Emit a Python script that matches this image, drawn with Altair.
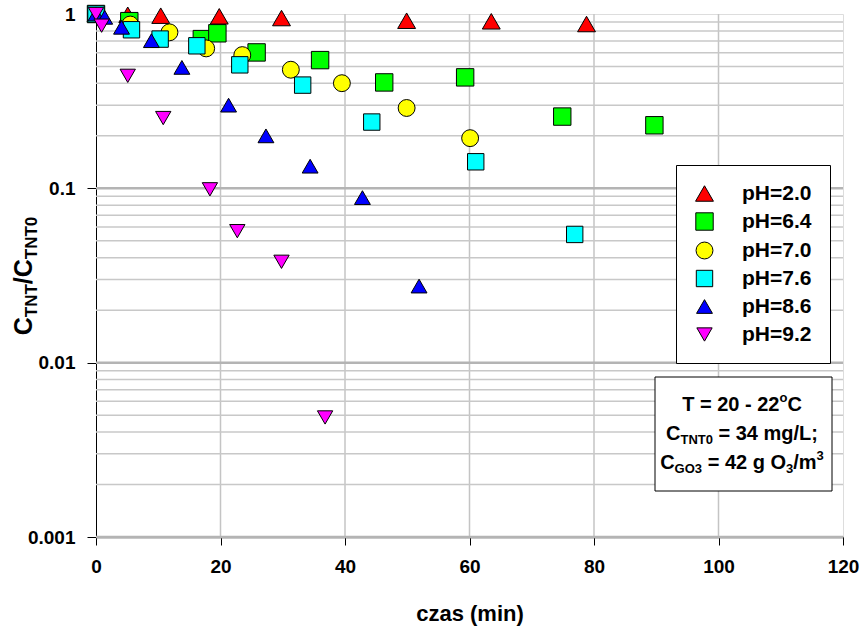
import altair as alt
import pandas as pd

FONT = "Liberation Sans"

series = ["pH=2.0", "pH=6.4", "pH=7.0", "pH=7.6", "pH=8.6", "pH=9.2"]
colors = ["#FF0000", "#00FF00", "#FFFF00", "#00FFFF", "#0000FF", "#FF00FF"]
shapes = ["triangle-up", "square", "circle", "square", "triangle-up", "triangle-down"]
sizes = [320, 235, 250, 235, 320, 320]

t_20 = [0, 5.1, 10.4, 19.8, 29.8, 49.9, 63.5, 78.8]
c_20 = [1.0, 0.99, 0.978, 0.97, 0.948, 0.915, 0.908, 0.876]

t_64 = [0, 5.35, 17.0, 19.5, 25.8, 36.0, 46.3, 59.3, 74.9, 89.7]
c_64 = [1.0, 0.91, 0.718, 0.775, 0.602, 0.544, 0.405, 0.433, 0.258, 0.230]

t_70 = [0, 5.5, 11.8, 17.7, 23.5, 31.3, 39.5, 49.9, 60.1]
c_70 = [1.0, 0.87, 0.785, 0.635, 0.581, 0.479, 0.401, 0.289, 0.194]

t_76 = [0, 5.7, 10.3, 16.2, 23.1, 33.2, 44.3, 61.0, 76.9]
c_76 = [1.0, 0.812, 0.718, 0.657, 0.511, 0.391, 0.240, 0.142, 0.0544]

t_86 = [0, 1.4, 4.1, 8.9, 13.8, 21.3, 27.3, 34.4, 42.8, 51.9]
c_86 = [1.0, 0.957, 0.839, 0.703, 0.494, 0.300, 0.200, 0.134, 0.0885, 0.0275]

t_92 = [0, 0.9, 5.1, 10.8, 18.3, 22.7, 29.8, 36.8]
c_92 = [1.0, 0.857, 0.442, 0.253, 0.0987, 0.0568, 0.0379, 0.00485]

x_ticks = [0, 20, 40, 60, 80, 100, 120]
y_ticks = [0.001, 0.01, 0.1, 1]
x_grid = [20, 40, 60, 80, 100]
y_major_grid = [0.001, 0.01, 0.1]
y_minor_grid = [k * 10.0 ** d for d in (-3, -2, -1) for k in range(2, 10)]

rows = []
for name, ts, cs in zip(series, [t_20, t_64, t_70, t_76, t_86, t_92],
                        [c_20, c_64, c_70, c_76, c_86, c_92]):
    for t, c in zip(ts, cs):
        rows.append({"series": name, "t": t, "c": c})
df = pd.DataFrame(rows)

X0, Y0 = 96, 14
W, H = 747, 523

xs = alt.Scale(domain=[0, 120], nice=False, zero=False)
ys = alt.Scale(type="log", domain=[0.001, 1], nice=False)

dummy = pd.DataFrame({"a": [0]})


def txt(s, x, y, size, align="left", angle=0, baseline="middle"):
    return alt.Chart(dummy).mark_text(
        text=s, fontSize=size, fontWeight="bold", font=FONT, align=align,
        baseline=baseline, angle=angle, color="black"
    ).encode(x=alt.value(x - X0), y=alt.value(y - Y0))


minor = alt.Chart(pd.DataFrame({"v": y_minor_grid})).mark_rule(
    color="#c8c8c8", strokeWidth=1.5
).encode(y=alt.Y("v:Q", scale=ys))
major = alt.Chart(pd.DataFrame({"v": y_major_grid})).mark_rule(
    color="#b4b4b4", strokeWidth=2.5
).encode(y=alt.Y("v:Q", scale=ys))
vgrid = alt.Chart(pd.DataFrame({"v": x_grid})).mark_rule(
    color="#c4c4c4", strokeWidth=1.5
).encode(x=alt.X("v:Q", scale=xs))

leg = alt.Legend(
    title="", orient="none", legendX=676 - X0, legendY=165 - Y0,
    fillColor="white", strokeColor="black", padding=18, rowPadding=6,
    labelFontSize=21, labelFont=FONT, labelFontWeight="bold", labelColor="black",
    symbolSize=280, symbolStrokeColor="black", symbolStrokeWidth=1,
    labelOffset=27
)

points = alt.Chart(df).mark_point(
    filled=True, stroke="black", strokeWidth=1, opacity=1
).encode(
    x=alt.X("t:Q", scale=xs, axis=alt.Axis(
        values=x_ticks, format="d", title=None, grid=False, labelFontSize=19,
        labelFont=FONT, labelFontWeight="bold", labelColor="black",
        tickColor="black", tickSize=8, domainColor="#404040", domainWidth=1.5,
        labelPadding=12, labelFlush=False, labelOverlap=False)),
    y=alt.Y("c:Q", scale=ys, axis=alt.Axis(
        values=y_ticks, format="~g", title=None, grid=False, labelFontSize=19,
        labelFont=FONT, labelFontWeight="bold", labelColor="black",
        tickColor="black", tickSize=9, domainColor="black", domainWidth=1,
        labelPadding=12, labelFlush=False, labelOverlap=False)),
    color=alt.Color("series:N", scale=alt.Scale(domain=series, range=colors), legend=leg),
    shape=alt.Shape("series:N", scale=alt.Scale(domain=series, range=shapes), legend=leg),
    size=alt.Size("series:N", scale=alt.Scale(domain=series, range=sizes), legend=None),
)

box = alt.Chart(dummy).mark_rect(fill="white", stroke="black", strokeWidth=1).encode(
    x=alt.value(655 - X0), x2=alt.value(832 - X0),
    y=alt.value(377 - Y0), y2=alt.value(491 - Y0))

# text box lines (Arial/Liberation Sans Bold advance widths)
M, S = 20, 13
l1_start = 742 - (4.864 * M + 0.611 * S + 0.722 * M) / 2
l2_start = 742 - (0.722 * M + 2.5 * S + 5.252 * M) / 2
l3_start = 742 - (0.722 * M + 2.112 * S + 4.197 * M + 0.556 * S + 1.167 * M + 0.556 * S) / 2
y1, y2, y3 = 405, 434, 463

layers_text = []
x = l1_start
layers_text.append(txt("T = 20 - 22", x, y1, M)); x += 4.864 * M
layers_text.append(txt("o", x, y1 - 7, S)); x += 0.611 * S
layers_text.append(txt("C", x, y1, M))

x = l2_start
layers_text.append(txt("C", x, y2, M)); x += 0.722 * M
layers_text.append(txt("TNT0", x, y2 + 6, S)); x += 2.5 * S
layers_text.append(txt("= 34 mg/L;", x + 0.278 * M, y2, M))

x = l3_start
layers_text.append(txt("C", x, y3, M)); x += 0.722 * M
layers_text.append(txt("GO3", x, y3 + 6, S)); x += 2.112 * S
layers_text.append(txt("= 42 g O", x + 0.278 * M, y3, M)); x += 4.197 * M
layers_text.append(txt("3", x, y3 + 6, S)); x += 0.556 * S
layers_text.append(txt("/m", x, y3, M)); x += 1.167 * M
layers_text.append(txt("3", x, y3 - 7, S))

# y axis title, rotated, with subscripts
YM, YS = 25, 17
ytot = 0.722 * YM * 2 + 1.944 * YS + 0.278 * YM + 2.5 * YS
yy = 276 + ytot / 2
bx_main, bx_sub = 32, 37
layers_text.append(txt("C", bx_main, yy, YM, angle=270, baseline="alphabetic")); yy -= 0.722 * YM
layers_text.append(txt("TNT", bx_sub, yy, YS, angle=270, baseline="alphabetic")); yy -= 1.944 * YS
layers_text.append(txt("/C", bx_main, yy, YM, angle=270, baseline="alphabetic")); yy -= 1.0 * YM
layers_text.append(txt("TNT0", bx_sub, yy, YS, angle=270, baseline="alphabetic"))

# x axis title
layers_text.append(txt("czas (min)", 470, 614, 22, align="center"))

chart = alt.layer(vgrid, minor, major, points, box, *layers_text).properties(
    width=W, height=H,
    autosize=alt.AutoSizeParams(type="none"),
    padding={"left": X0, "top": Y0, "right": 861 - X0 - W, "bottom": 631 - Y0 - H},
).configure_view(stroke="#808080", strokeWidth=2).configure(background="white")

chart.save("out.html", embed_options={"renderer": "svg", "actions": False})
